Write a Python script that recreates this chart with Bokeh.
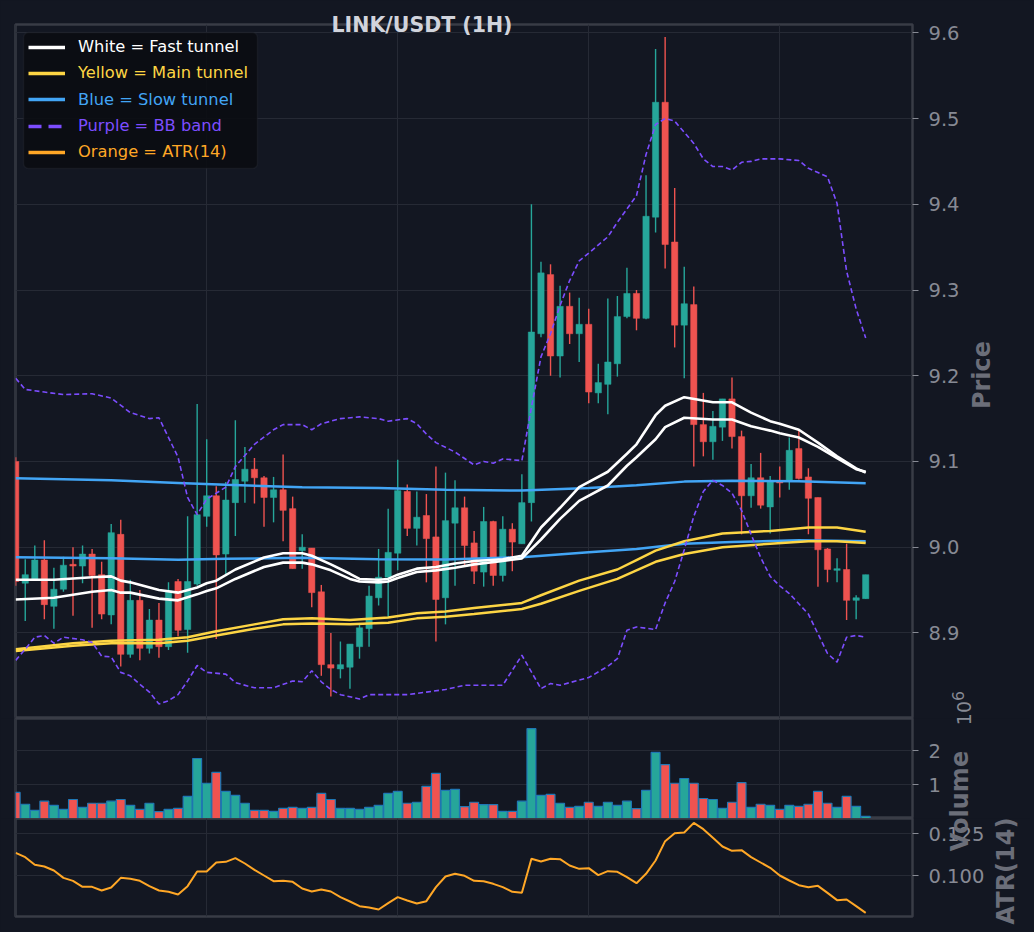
import math
from bokeh.plotting import figure
from bokeh.models import (ColumnDataSource, Range1d, FixedTicker, SingleIntervalTicker,
                          CustomJSTickFormatter, Legend, LegendItem, BoxAnnotation, Div)
from bokeh.layouts import column
from bokeh.embed import file_html
from bokeh.resources import INLINE

# ---------------- data ----------------
opens = [9.100, 8.958, 8.962, 8.985, 8.931, 8.951, 8.980, 8.978, 8.992, 8.968,
         8.921, 9.015, 8.875, 8.938, 8.882, 8.915, 8.884, 8.960, 8.904, 8.957,
         9.036, 9.060, 8.992, 9.052, 9.077, 9.091, 9.081, 9.058, 9.067, 9.045,
         8.996, 8.999, 8.948, 8.863, 8.858, 8.860, 8.884, 8.905, 8.941, 8.965,
         8.993, 9.065, 9.022, 9.037, 9.012, 8.941, 9.028, 9.046, 9.005, 8.971,
         9.030, 8.967, 9.021, 9.004, 9.052, 9.249, 9.318, 9.223, 9.281, 9.249,
         9.260, 9.180, 9.190, 9.214, 9.269, 9.296, 9.267, 9.385, 9.519, 9.356,
         9.259, 9.283, 9.143, 9.123, 9.140, 9.173, 9.129, 9.060, 9.081, 9.047,
         9.077, 9.078, 9.115, 9.082, 9.058, 8.998, 8.973, 8.974, 8.938, 8.940]
highs = [9.105, 8.986, 9.002, 9.008, 8.976, 8.989, 9.000, 9.002, 8.998, 8.983,
         9.027, 9.032, 8.962, 8.950, 8.928, 8.935, 8.959, 8.963, 9.036, 9.167,
         9.126, 9.071, 9.076, 9.148, 9.117, 9.104, 9.083, 9.082, 9.108, 9.059,
         9.015, 8.999, 8.956, 8.900, 8.890, 8.887, 8.911, 8.955, 8.998, 9.045,
         9.102, 9.073, 9.065, 9.062, 9.094, 9.087, 9.078, 9.059, 9.019, 9.047,
         9.031, 9.036, 9.028, 9.085, 9.400, 9.333, 9.330, 9.305, 9.297, 9.291,
         9.278, 9.214, 9.290, 9.293, 9.326, 9.300, 9.434, 9.581, 9.595, 9.419,
         9.327, 9.304, 9.180, 9.159, 9.173, 9.198, 9.136, 9.097, 9.110, 9.083,
         9.094, 9.128, 9.136, 9.092, 9.058, 8.999, 8.987, 9.004, 8.944, 8.968]
lows = [8.955, 8.914, 8.961, 8.916, 8.905, 8.948, 8.920, 8.958, 8.906, 8.916,
        8.910, 8.861, 8.871, 8.868, 8.876, 8.871, 8.880, 8.896, 8.877, 8.955,
        9.024, 8.893, 8.968, 9.013, 9.052, 9.051, 9.024, 9.029, 9.007, 8.975,
        8.975, 8.930, 8.850, 8.826, 8.847, 8.835, 8.870, 8.884, 8.932, 8.918,
        8.973, 9.013, 9.002, 8.959, 8.890, 8.910, 8.955, 8.978, 8.957, 8.954,
        8.955, 8.960, 8.972, 9.004, 9.030, 9.245, 9.200, 9.198, 9.237, 9.216,
        9.168, 9.168, 9.155, 9.199, 9.267, 9.253, 9.266, 9.367, 9.325, 9.233,
        9.197, 9.094, 9.106, 9.102, 9.124, 9.115, 9.015, 9.046, 9.045, 9.016,
        9.058, 9.067, 9.079, 9.015, 8.954, 8.959, 8.959, 8.915, 8.916, 8.940]
closes = [8.960, 8.968, 8.985, 8.933, 8.951, 8.979, 8.978, 8.992, 8.967, 8.922,
          9.017, 8.875, 8.938, 8.882, 8.915, 8.884, 8.949, 8.903, 8.960, 9.038,
          9.060, 8.991, 9.055, 9.079, 9.091, 9.081, 9.058, 9.067, 9.043, 8.975,
          9.000, 8.947, 8.863, 8.859, 8.863, 8.887, 8.906, 8.943, 8.965, 8.994,
          9.066, 9.022, 9.035, 9.010, 8.939, 9.031, 9.046, 9.002, 8.972, 9.030,
          8.967, 9.021, 9.006, 9.052, 9.251, 9.320, 9.223, 9.281, 9.249, 9.260,
          9.181, 9.192, 9.216, 9.269, 9.296, 9.267, 9.386, 9.519, 9.353, 9.259,
          9.284, 9.143, 9.123, 9.141, 9.173, 9.129, 9.060, 9.081, 9.049, 9.077,
          9.075, 9.113, 9.080, 9.057, 8.997, 8.974, 8.975, 8.938, 8.941, 8.968]
volumes = [770000, 420000, 240000, 510000, 390000, 270000, 560000, 330000, 450000, 450000,
           510000, 560000, 390000, 270000, 450000, 200000, 270000, 300000, 650000, 1770000,
           1040000, 1360000, 800000, 680000, 450000, 240000, 240000, 210000, 300000, 330000,
           300000, 330000, 740000, 560000, 300000, 300000, 270000, 330000, 390000, 740000,
           800000, 450000, 480000, 950000, 1330000, 830000, 860000, 350000, 480000, 410000,
           410000, 210000, 210000, 510000, 2650000, 680000, 710000, 450000, 330000, 360000,
           480000, 360000, 480000, 390000, 510000, 290000, 830000, 1950000, 1590000, 1040000,
           1180000, 1040000, 590000, 560000, 300000, 480000, 1060000, 330000, 420000, 390000,
           270000, 390000, 360000, 420000, 800000, 450000, 330000, 650000, 360000, 60000]
atr14 = [0.1136, 0.1110, 0.1064, 0.1054, 0.1030, 0.0986, 0.0968, 0.0932, 0.0932, 0.0910,
         0.0928, 0.0986, 0.0980, 0.0968, 0.0936, 0.0910, 0.0902, 0.0886, 0.0936, 0.1024,
         0.1024, 0.1078, 0.1082, 0.1104, 0.1072, 0.1034, 0.1000, 0.0966, 0.0968, 0.0962,
         0.0922, 0.0904, 0.0916, 0.0904, 0.0870, 0.0844, 0.0816, 0.0808, 0.0796, 0.0834,
         0.0870, 0.0850, 0.0832, 0.0846, 0.0930, 0.0994, 0.1010, 0.0998, 0.0968, 0.0966,
         0.0950, 0.0930, 0.0902, 0.0896, 0.1100, 0.1084, 0.1100, 0.1098, 0.1060, 0.1040,
         0.1044, 0.1002, 0.1026, 0.1022, 0.0990, 0.0954, 0.1010, 0.1090, 0.1206, 0.1254,
         0.1258, 0.1316, 0.1278, 0.1226, 0.1174, 0.1148, 0.1152, 0.1110, 0.1078, 0.1046,
         0.1000, 0.0970, 0.0942, 0.0930, 0.0938, 0.0896, 0.0852, 0.0856, 0.0816, 0.0776]

fast_idx = [0, 4, 8, 10, 11, 12, 15, 17, 19, 20, 21, 23, 26, 28, 30, 31, 33, 35, 36, 38,
            39, 40, 42, 44, 46, 48, 51, 53, 55, 57, 59, 62, 64, 65, 67, 68, 70, 73, 75, 77,
            79, 80, 82, 84, 86, 88, 89]
fast_upper = [8.962, 8.962, 8.965, 8.966, 8.961, 8.959, 8.950, 8.947, 8.953, 8.958,
              8.961, 8.974, 8.988, 8.993, 8.993, 8.990, 8.980, 8.969, 8.963, 8.962,
              8.963, 8.968, 8.975, 8.977, 8.981, 8.984, 8.986, 8.990, 9.023, 9.046,
              9.070, 9.088, 9.109, 9.120, 9.154, 9.165, 9.175, 9.169, 9.169, 9.157,
              9.147, 9.144, 9.137, 9.122, 9.106, 9.092, 9.087]
fast_lower = [8.939, 8.941, 8.948, 8.950, 8.947, 8.947, 8.940, 8.938, 8.945, 8.949,
              8.952, 8.963, 8.977, 8.982, 8.982, 8.980, 8.973, 8.963, 8.960, 8.959,
              8.960, 8.964, 8.971, 8.973, 8.976, 8.980, 8.984, 8.987, 9.009, 9.033,
              9.054, 9.072, 9.095, 9.105, 9.126, 9.140, 9.151, 9.149, 9.149, 9.141,
              9.136, 9.133, 9.128, 9.117, 9.104, 9.091, 9.088]

main_idx = [0, 6, 10, 15, 18, 21, 25, 28, 31, 35, 39, 42, 45, 48, 53, 55, 59, 63, 65, 67,
            70, 74, 79, 83, 86, 89]
main_upper = [8.881, 8.888, 8.891, 8.892, 8.895, 8.902, 8.910, 8.916, 8.917, 8.915,
              8.918, 8.923, 8.925, 8.929, 8.935, 8.944, 8.961, 8.974, 8.985, 8.996,
              9.007, 9.016, 9.019, 9.023, 9.023, 9.018]
main_lower = [8.879, 8.885, 8.888, 8.888, 8.891, 8.897, 8.905, 8.910, 8.911, 8.910,
              8.912, 8.917, 8.919, 8.922, 8.928, 8.934, 8.949, 8.963, 8.973, 8.983,
              8.992, 9.000, 9.004, 9.007, 9.007, 9.005]

slow_idx = [0, 10, 17, 22, 30, 38, 45, 53, 60, 65, 70, 75, 82, 89]
slow_upper = [9.0805, 9.0780, 9.0750, 9.0728, 9.0700, 9.0690, 9.0669, 9.0661, 9.0690,
              9.0724, 9.0765, 9.0775, 9.0770, 9.0746]
slow_lower = [8.9883, 8.9870, 8.9853, 8.9864, 8.9876, 8.9860, 8.9857, 8.9883, 8.9940,
              8.9980, 9.0040, 9.0060, 9.0080, 9.0070]

bb_up_idx = [0, 1, 3, 5, 8, 10, 12, 14, 15, 17, 18, 19, 20, 22, 23, 25, 27, 28, 30, 31,
             32, 34, 36, 38, 39, 41, 42, 43, 44, 46, 48, 49, 50, 51, 53, 54, 55, 56, 57, 58,
             59, 60, 62, 63, 65, 66, 67, 68, 69, 70, 71, 72, 73, 74, 75, 76, 77, 78, 80, 82,
             83, 84, 85, 86, 87, 88, 89]
bb_upper = [9.197, 9.184, 9.181, 9.178, 9.179, 9.174, 9.157, 9.150, 9.151, 9.105,
            9.058, 9.038, 9.056, 9.070, 9.094, 9.120, 9.137, 9.143, 9.143, 9.137,
            9.144, 9.150, 9.152, 9.150, 9.147, 9.150, 9.144, 9.132, 9.122, 9.111,
            9.096, 9.100, 9.098, 9.103, 9.101, 9.163, 9.222, 9.249, 9.282, 9.311,
            9.334, 9.343, 9.362, 9.379, 9.410, 9.458, 9.493, 9.500, 9.497, 9.484,
            9.471, 9.453, 9.444, 9.444, 9.440, 9.449, 9.450, 9.453, 9.453, 9.451,
            9.442, 9.437, 9.432, 9.401, 9.322, 9.278, 9.244]
bb_lo_idx = [0, 1, 2, 3, 4, 5, 7, 8, 9, 10, 11, 12, 13, 14, 15, 16, 17, 18, 19, 20,
             22, 23, 25, 27, 29, 30, 31, 32, 33, 34, 36, 37, 39, 41, 43, 45, 47, 51, 53, 55,
             56, 57, 60, 62, 63, 64, 65, 67, 68, 69, 70, 71, 72, 73, 74, 75, 76, 77, 78, 79,
             80, 81, 83, 85, 86, 87, 88, 89]
bb_lower = [8.868, 8.881, 8.895, 8.897, 8.888, 8.895, 8.892, 8.889, 8.873, 8.872,
            8.854, 8.850, 8.840, 8.831, 8.817, 8.821, 8.828, 8.844, 8.862, 8.854,
            8.852, 8.842, 8.836, 8.836, 8.844, 8.843, 8.856, 8.843, 8.834, 8.828,
            8.823, 8.828, 8.828, 8.828, 8.831, 8.834, 8.839, 8.839, 8.874, 8.835,
            8.841, 8.839, 8.848, 8.861, 8.870, 8.903, 8.907, 8.904, 8.935, 8.960,
            8.997, 9.036, 9.065, 9.078, 9.072, 9.063, 9.043, 9.015, 8.988, 8.966,
            8.955, 8.946, 8.922, 8.876, 8.866, 8.895, 8.897, 8.895]

price_ticks = [8.9, 9.0, 9.1, 9.2, 9.3, 9.4, 9.5, 9.6]
volume_ticks = [1000000, 2000000]
atr_ticks = [0.100, 0.125]
legend_labels = ["White = Fast tunnel", "Yellow = Main tunnel", "Blue = Slow tunnel",
                 "Purple = BB band", "Orange = ATR(14)"]
title_text = "LINK/USDT (1H)"
price_label = "Price"
volume_label = "Volume"
volume_offset_label = "10<sup>6</sup>"
atr_label = "ATR(14)"

# ---------------- styling ----------------
BG = "#131722"
GRID = "#262a35"
SPINE = "#393c46"
TICK_TXT = "#878a94"
AX_LBL = "#6b6e79"
UP = "#26a69a"
DOWN = "#ef5350"
WHITE = "#ffffff"
YELLOW = "#fdd544"
BLUE = "#42a5f5"
PURPLE = "#7c4dff"
ORANGE = "#ffa726"
FONT = "DejaVu Sans"

n = len(closes)
xs = list(range(n))
colors = [UP if c >= o else DOWN for o, c in zip(opens, closes)]
src = ColumnDataSource(dict(
    x=xs, o=opens, h=highs, l=lows, c=closes,
    top=[max(o, c) for o, c in zip(opens, closes)],
    bottom=[min(o, c) for o, c in zip(opens, closes)],
    color=colors, vol=volumes, atr=atr14))

W = 1030
XR = Range1d(-0.02, 93.9)


def base_fig(height, yr, ticks, fmt_code, top=0, bottom=0):
    p = figure(width=W, height=height, x_range=XR, y_range=yr, output_backend="svg",
               toolbar_location=None, y_axis_location="right", x_axis_location=None,
               min_border_left=15, min_border_right=118, min_border_top=top,
               min_border_bottom=bottom)
    p.background_fill_color = BG
    p.border_fill_color = BG
    p.outline_line_color = SPINE
    p.outline_line_width = 2.5
    p.xgrid.ticker = SingleIntervalTicker(interval=20, num_minor_ticks=0)
    p.xgrid.grid_line_color = GRID
    p.ygrid.grid_line_color = GRID
    p.xgrid.grid_line_width = 1
    p.ygrid.grid_line_width = 1
    ax = p.yaxis[0]
    ax.ticker = FixedTicker(ticks=ticks)
    ax.formatter = CustomJSTickFormatter(code=fmt_code)
    ax.axis_line_color = None
    ax.major_tick_line_color = TICK_TXT
    ax.major_tick_line_width = 1.2
    ax.major_tick_out = 6
    ax.major_tick_in = 0
    ax.minor_tick_line_color = None
    ax.major_label_text_color = TICK_TXT
    ax.major_label_text_font = FONT
    ax.major_label_text_font_size = "19.5px"
    ax.major_label_standoff = 10
    return p


# ---------------- main price panel ----------------
main = base_fig(718, Range1d(8.8002, 9.6097), price_ticks, "return tick.toFixed(1);", top=24)
main.segment(x0="x", y0="l", x1="x", y1="h", source=src, line_color="color", line_width=1.4)
main.vbar(x="x", width=0.66, top="top", bottom="bottom", source=src,
          fill_color="color", line_color="color", line_width=0.5)

main.line(slow_idx, slow_upper, line_color=BLUE, line_width=2.5)
main.line(slow_idx, slow_lower, line_color=BLUE, line_width=2.5)
main.line(main_idx, main_upper, line_color=YELLOW, line_width=2.5)
main.line(main_idx, main_lower, line_color=YELLOW, line_width=2.5)
main.line(fast_idx, fast_upper, line_color=WHITE, line_width=2.6)
main.line(fast_idx, fast_lower, line_color=WHITE, line_width=2.6)
main.line(bb_up_idx, bb_upper, line_color=PURPLE, line_width=1.6, line_dash="5 3")
main.line(bb_lo_idx, bb_lower, line_color=PURPLE, line_width=1.6, line_dash="5 3")

# legend box
main.add_layout(BoxAnnotation(left=8, right=242, top=686, bottom=550,
                              left_units="screen", right_units="screen",
                              top_units="screen", bottom_units="screen",
                              fill_color="#0b0d12", fill_alpha=0.92,
                              line_color="#30333c", line_width=1.5, border_radius=5))
leg_styles = [(WHITE, "solid", 3.5), (YELLOW, "solid", 3.5), (BLUE, "solid", 3.5),
              (PURPLE, "13 7", 3.5), (ORANGE, "solid", 3.5)]
leg_bottoms = [661.3, 635.3, 609.0, 582.3, 556.3]
for lab, (col, dash, lw), by in zip(legend_labels, leg_styles, leg_bottoms):
    r = main.line(x=[0], y=[float("nan")], line_color=col, line_width=lw, line_dash=dash)
    lg = Legend(items=[LegendItem(label=lab, renderers=[r])], location=(13, by),
                label_text_color=col, label_text_font=FONT, label_text_font_size="16.3px",
                glyph_width=37, glyph_height=20, label_height=20, label_standoff=13,
                padding=0, margin=0, spacing=0, border_line_color=None,
                background_fill_alpha=0)
    main.add_layout(lg)

# ---------------- volume panel ----------------
vol = base_fig(100, Range1d(0, 2.95e6), volume_ticks, "return (tick/1e6).toFixed(0);")
vol.vbar(x="x", width=0.93, top="vol", bottom=0, source=src, fill_color="color",
         line_color="#1f77b4", line_width=1.2)

# ---------------- ATR panel ----------------
atr = base_fig(112, Range1d(0.0754, 0.1342), atr_ticks, "return tick.toFixed(3);", bottom=14)
atr.line(x="x", y="atr", source=src, line_color=ORANGE, line_width=2)

layout = column(main, vol, atr, spacing=0)


# ---------------- texts that sit across panel edges (HTML overlay) ----------------
def span(text, cx, cy, size, color, bold, rotate, w=160, h=34):
    rot = "transform:rotate(-90deg);" if rotate else ""
    weight = "bold" if bold else "normal"
    return (f'<span style="position:absolute;left:{cx - w / 2}px;top:{cy - h / 2}px;'
            f'width:{w}px;height:{h}px;line-height:{h}px;text-align:center;white-space:nowrap;'
            f'{rot}font-family:\'DejaVu Sans\';font-size:{size};font-weight:{weight};'
            f'color:{color};">{text}</span>')


overlay_html = "".join([
    span(title_text, 417, 20, "20.5px", "#d1d4dc", True, False, w=320),
    span(price_label, 977, 370, "24px", AX_LBL, True, True),
    span(volume_offset_label, 954, 703, "19px", TICK_TXT, False, True, w=60),
    span(volume_label, 955, 796, "24px", AX_LBL, True, True),
    span(atr_label, 1001, 866, "24px", AX_LBL, True, True),
])
overlay = Div(text=overlay_html,
              styles={"position": "absolute", "left": "0px", "top": "0px", "width": "0px",
                      "height": "0px", "overflow": "visible", "z-index": "10",
                      "pointer-events": "none"})

TEMPLATE = ("{% block preamble %}<style>html, body { background-color: #131722; "
            "margin: 0; padding: 0; overflow: hidden; }</style>{% endblock %}")

open("out.html", "w").write(file_html([overlay, layout], INLINE, title=title_text,
                                      template=TEMPLATE))
